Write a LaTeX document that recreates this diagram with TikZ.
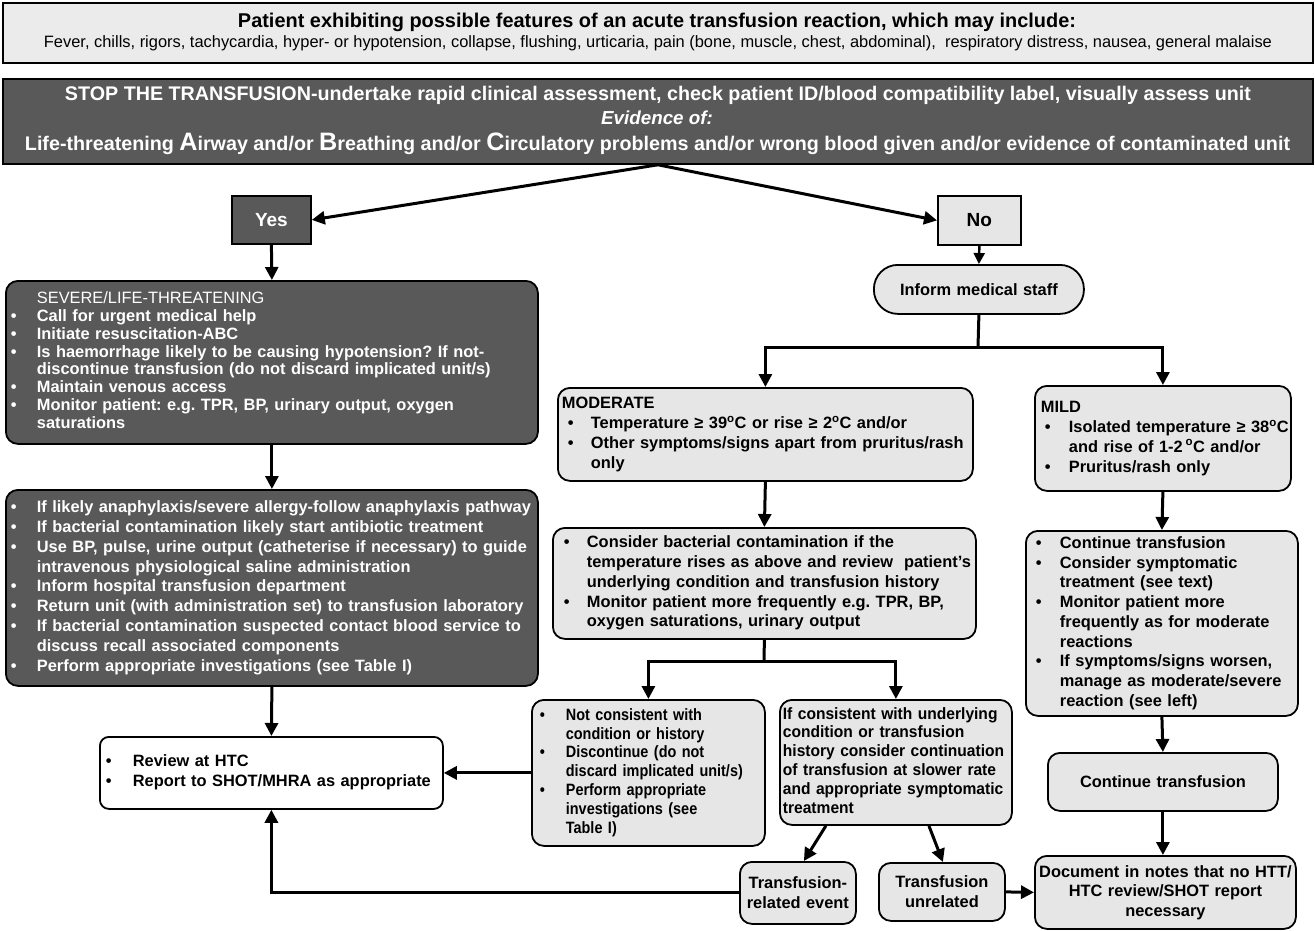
\documentclass[tikz,border=0pt]{standalone}
\usepackage{fontspec}
\setmainfont{Liberation Sans}
\newfontfamily\narrowfont{Liberation Sans}[FakeStretch=0.88]
\newfontfamily\narrowbfont{Liberation Sans}[FakeStretch=0.95]
\usepackage{graphicx}
\usetikzlibrary{arrows.meta}
\frenchspacing
\definecolor{darkfill}{HTML}{595959}
\definecolor{lightfill}{HTML}{E6E6E6}
\definecolor{topfill}{HTML}{EBEBEB}
\newcommand\bul[2]{\hspace*{#1pt}\makebox[#2pt][l]{\textbullet}}
\newcommand\ind[1]{\hspace*{#1pt}}
\newcommand\dg{\textsuperscript{o}}
\newcommand\lines[1]{\begin{tabular}{@{}l@{}}#1\end{tabular}}
\tikzset{
  box/.style={draw=black, line width=1.8pt, rounded corners=12pt, inner ysep=0pt,
    anchor=north west, align=left,
    font=\bfseries\fontsize{16.4}{19.8}\selectfont},
  darkbox/.style={box, fill=darkfill, text=white},
  lightbox/.style={box, fill=lightfill},
  whitebox/.style={box, fill=white},
  sqbox/.style={box, rounded corners=0pt},
  conn/.style={line width=3pt, -{Triangle[length=13pt,width=13pt]}},
  thinconn/.style={line width=2.4pt, -{Triangle[length=11pt,width=11pt]}},
  plain/.style={line width=3pt},
  label/.style={inner sep=0pt},
}
\begin{document}
\begin{tikzpicture}[x=1pt,y=-1pt]
\useasboundingbox (0,0) rectangle (1315,931);

% top box
\node[sqbox, fill=topfill, minimum width=1310pt, minimum height=60pt] (top) at (2,2) {};
\node[label] (toptitle) at (657,22) {\resizebox{838pt}{!}{\bfseries Patient exhibiting possible features of an acute transfusion reaction, which may include:}};
\node[label] (topsub) at (658,43) {\resizebox{1228pt}{!}{Fever, chills, rigors, tachycardia, hyper- or hypotension, collapse, flushing, urticaria, pain (bone, muscle, chest, abdominal),\ \ respiratory distress, nausea, general malaise}};

% stop box
\node[sqbox, fill=darkfill, minimum width=1310pt, minimum height=85pt] (stop) at (2,78) {};
\node[label, text=white] (stopa) at (658,95) {\resizebox{1186pt}{!}{\bfseries STOP THE TRANSFUSION-undertake rapid clinical assessment, check patient ID/blood compatibility label, visually assess unit}};
\node[label, text=white, font=\bfseries\itshape\fontsize{18.8}{20}\selectfont] (stopb) at (657,118) {Evidence of:};
\node[label, text=white] (stopc) at (657.5,144) {\resizebox{1265pt}{!}{\bfseries\fontsize{18}{20}\selectfont Life-threatening {\fontsize{23}{24}\selectfont A}irway and/or {\fontsize{23}{24}\selectfont B}reathing and/or {\fontsize{23}{24}\selectfont C}irculatory problems and/or wrong blood given and/or evidence of contaminated unit}};

% yes / no
\node[sqbox, fill=darkfill, text=white, minimum width=79pt, minimum height=48pt, inner xsep=0pt, align=center, font=\bfseries\fontsize{19}{20}\selectfont] (yes) at (231,195) {Yes};
\node[sqbox, fill=lightfill, minimum width=83pt, minimum height=49pt, inner xsep=0pt, align=center, font=\bfseries\fontsize{19}{20}\selectfont] (no) at (937,195) {No};

% left column
\node[darkbox, minimum width=532pt, minimum height=163pt, inner xsep=5pt, text width=522pt,
  font=\bfseries\fontsize{16.4}{17.8}\selectfont] (severe) at (5,280) {\lines{%
\ind{26}{\mdseries SEVERE/LIFE-THREATENING}\\
\bul{0}{26}Call for urgent medical help\\
\bul{0}{26}Initiate resuscitation-ABC\\
\bul{0}{26}Is haemorrhage likely to be causing hypotension? If not-\\
\ind{26}discontinue transfusion (do not discard implicated unit/s)\\
\bul{0}{26}Maintain venous access\\
\bul{0}{26}Monitor patient: e.g. TPR, BP, urinary output, oxygen\\
\ind{26}saturations}};

\node[darkbox, minimum width=532pt, minimum height=196pt, inner xsep=5pt, text width=522pt] (actions) at (5,489) {\lines{%
\bul{0}{26}If likely anaphylaxis/severe allergy-follow anaphylaxis pathway\\
\bul{0}{26}If bacterial contamination likely start antibiotic treatment\\
\bul{0}{26}Use BP, pulse, urine output (catheterise if necessary) to guide\\
\ind{26}intravenous physiological saline administration\\
\bul{0}{26}Inform hospital transfusion department\\
\bul{0}{26}Return unit (with administration set) to transfusion laboratory\\
\bul{0}{26}If bacterial contamination suspected contact blood service to\\
\ind{26}discuss recall associated components\\
\bul{0}{26}Perform appropriate investigations (see Table I)}};

\node[whitebox, rounded corners=9pt, minimum width=343pt, minimum height=72pt, inner xsep=6pt, text width=331pt] (review) at (99,736) {\lines{%
\bul{0}{27}Review at HTC\\
\bul{0}{27}Report to SHOT/MHRA as appropriate}};

% right part
\node[lightbox, rounded corners=24pt, minimum width=210pt, minimum height=49pt, inner xsep=0pt, text width=210pt, align=center] (inform) at (873,264) {Inform medical staff};

\node[lightbox, minimum width=415pt, minimum height=93pt, inner xsep=4pt, text width=407pt] (moderate) at (557,387) {\lines{%
MODERATE\\
\bul{6}{23}Temperature ≥ 39\dg C or rise ≥ 2\dg C and/or\\
\bul{6}{23}Other symptoms/signs apart from pruritus/rash\\
\ind{29}only}};

\node[lightbox, minimum width=256pt, minimum height=105pt, inner xsep=6pt, text width=244pt] (mild) at (1034,385) {\lines{%
MILD\\
\bul{4}{24}Isolated temperature ≥ 38\dg C\\
\ind{28}and rise of 1-2\,\dg C and/or\\
\bul{4}{24}Pruritus/rash only}};

\node[lightbox, minimum width=423pt, minimum height=111pt, inner xsep=6pt, text width=411pt] (consider) at (552,527) {\lines{%
\bul{5}{23}Consider bacterial contamination if the\\
\ind{28}temperature rises as above and review\ \ patient’s\\
\ind{28}underlying condition and transfusion history\\
\bul{5}{23}Monitor patient more frequently e.g. TPR, BP,\\
\ind{28}oxygen saturations, urinary output}};

\node[lightbox, minimum width=233pt, minimum height=146pt, inner xsep=5pt, text width=223pt,
  font=\bfseries\narrowfont\fontsize{16.4}{18.8}\selectfont] (notcons) at (531,699) {\lines{%
\bul{3}{26}Not consistent with\\
\ind{29}condition or history\\
\bul{3}{26}Discontinue (do not\\
\ind{29}discard implicated unit/s)\\
\bul{3}{26}Perform appropriate\\
\ind{29}investigations (see\\
\ind{29}Table I)}};

\node[lightbox, minimum width=232pt, minimum height=125pt, inner xsep=3pt, text width=226pt,
  font=\bfseries\narrowbfont\fontsize{16.4}{18.8}\selectfont] (ifcons) at (779,699) {\lines{%
If consistent with underlying\\
condition or transfusion\\
history consider continuation\\
of transfusion at slower rate\\
and appropriate symptomatic\\
treatment}};

\node[lightbox, minimum width=116pt, minimum height=62pt, inner xsep=0pt, text width=116pt, align=center] (trel) at (739,861) {Transfusion-\\related event};
\node[lightbox, minimum width=126pt, minimum height=58pt, inner xsep=0pt, text width=126pt, align=center] (tunrel) at (878,862) {Transfusion\\unrelated};
\node[lightbox, minimum width=261pt, minimum height=73pt, inner xsep=0pt, text width=261pt, align=center,
  font=\bfseries\fontsize{16.4}{19.5}\selectfont] (doc) at (1034,855) {Document in notes that no HTT/\\HTC review/SHOT report\\necessary};

\node[lightbox, minimum width=272pt, minimum height=185pt, inner xsep=6pt, text width=260pt,
  font=\bfseries\fontsize{16.4}{19.75}\selectfont] (mildact) at (1025,530) {\lines{%
\bul{4}{24}Continue transfusion\\
\bul{4}{24}Consider symptomatic\\
\ind{28}treatment (see text)\\
\bul{4}{24}Monitor patient more\\
\ind{28}frequently as for moderate\\
\ind{28}reactions\\
\bul{4}{24}If symptoms/signs worsen,\\
\ind{28}manage as moderate/severe\\
\ind{28}reaction (see left)}};

\node[lightbox, minimum width=230pt, minimum height=58pt, inner xsep=0pt, text width=230pt, align=center] (cont) at (1047,752) {Continue transfusion};

% connectors
\draw[conn] (stop.south) -- (yes.east);
\draw[conn] (stop.south) -- (no.west);
\draw[conn] (yes.south) -- (severe.north);
\draw[conn] (severe.south) -- (actions.north);
\draw[conn] (actions.south) -- (review.north);
\draw[thinconn] (no.south) -- (inform.north);
\coordinate (split1) at (978,347);
\draw[plain] (inform.south) -- (split1);
\draw[conn] (split1) -| (moderate.north);
\draw[conn] (split1) -| (mild.north);
\draw[conn] (moderate.south) -- (consider.north);
\coordinate (split2) at (764,661);
\draw[plain] (consider.south) -- (split2);
\draw[conn] (split2) -| (notcons.north);
\draw[conn] (split2) -| (ifcons.north);
\draw[conn] (notcons.west) -- (review.east);
\draw[conn] ([xshift=-70pt]ifcons.south) -- ([xshift=6pt]trel.north);
\draw[conn] ([xshift=33pt]ifcons.south) -- ([xshift=1pt]tunrel.north);
\draw[conn] (tunrel.east) -- (doc.west);
\draw[conn] (trel.west) -| (review.south);
\draw[conn] (mild.south) -- (mildact.north);
\draw[conn] (mildact.south) -- (cont.north);
\draw[conn] (cont.south) -- (cont.south |- doc.north);
\end{tikzpicture}
\end{document}
